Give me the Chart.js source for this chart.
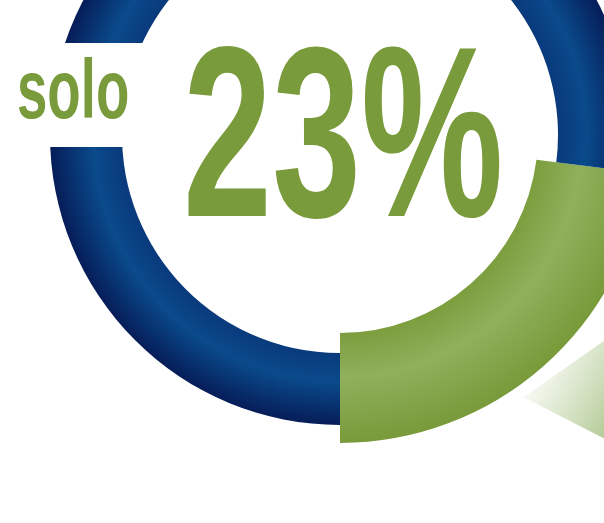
<!DOCTYPE html>
<html>
<head>
<meta charset="utf-8">
<script src="https://cdn.jsdelivr.net/npm/chart.js@4/dist/chart.umd.min.js"></script>
<style>
    html, body { margin: 0; padding: 0; background: #fff; }
    body { width: 604px; height: 523px; overflow: hidden; position: relative; }
    #wrap { position: absolute; left: -60px; top: -265px; width: 800px; height: 800px; }
    .lbl { position: absolute; color: #7a9b3b; font-family: "Liberation Sans", Arial, sans-serif;
           font-weight: bold; line-height: 1; white-space: nowrap; transform-origin: left top; }
    #mask { position: absolute; left: 0; top: 43px; width: 172px; height: 104px; background: #fff; }
</style>
</head>
<body>
<div id="wrap"><canvas id="ring" width="800" height="800"></canvas></div>
<div id="mask"></div>
<div class="lbl" id="solo" style="left:17px; top:47px; font-size:84px; transform:scaleX(0.65);">solo</div>
<div class="lbl" id="pct" style="left:183px; top:10px; font-size:244px; transform:scaleX(0.656);">23%</div>

<script>
// data
const labels = ["solo", "resto"];
const values = [23, 77];

// style
const outerR = 290;
const innerR = 218;
const growOut = 18;   // highlighted slice sticks out
const growIn = 20;

const greenStops = ["#7c9e3e", "#90b05c", "#789a39"];
const blueStops = ["#093a7c", "#0a4a8b", "#061d58"];

function sliceFill(c) {
    const chart = c.chart;
    const area = chart.chartArea;
    const first = c.dataIndex === 0;
    const stops = first ? greenStops : blueStops;
    if (!area) return stops[1];
    const rIn = first ? innerR - growIn : innerR;
    const rOut = first ? outerR + growOut : outerR;
    const cx = (area.left + area.right) / 2;
    const cy = (area.top + area.bottom) / 2;
    const g = chart.ctx.createRadialGradient(cx, cy, rIn, cx, cy, rOut);
    g.addColorStop(0, stops[0]);
    g.addColorStop(0.4, stops[1]);
    g.addColorStop(1, stops[2]);
    return g;
}

const bigSlice = {
    id: "bigSlice",
    afterDatasetUpdate(chart) {
        const arc = chart.getDatasetMeta(0).data[0];
        arc.outerRadius = outerR + growOut;
        arc.innerRadius = innerR - growIn;
    },
    beforeDatasetsDraw(chart) {
        // pale green glow below the green slice
        const arc = chart.getDatasetMeta(0).data[0];
        const ctx = chart.ctx;
        const cx = arc.x, cy = arc.y;
        const p = (r, deg) => [cx + r * Math.cos(deg * Math.PI / 180), cy + r * Math.sin(deg * Math.PI / 180)];
        ctx.save();
        ctx.beginPath();
        let a = p(320, 55); ctx.moveTo(a[0], a[1]);
        a = p(547, 43); ctx.lineTo(a[0], a[1]);
        a = p(560, 15); ctx.lineTo(a[0], a[1]);
        a = p(arc.outerRadius + 45, 30); ctx.lineTo(a[0], a[1]);
        ctx.closePath();
        const g = ctx.createLinearGradient(cx + 180, cy + 240, cx + 290, cy + 300);
        g.addColorStop(0, "rgba(160,190,120,0)");
        g.addColorStop(1, "rgba(140,175,95,0.8)");
        ctx.fillStyle = g;
        ctx.fill();
        ctx.restore();
    }
};

new Chart(document.getElementById("ring"), {
    type: "doughnut",
    data: {
        labels: labels,
        datasets: [{
            data: values,
            backgroundColor: sliceFill,
            borderWidth: 0
        }]
    },
    options: {
        responsive: false,
        animation: false,
        radius: outerR,
        cutout: (innerR / outerR * 100) + "%",
        rotation: 180 - values[0] * 3.6,
        layout: { padding: 0 },
        plugins: { legend: { display: false }, tooltip: { enabled: false } }
    },
    plugins: [bigSlice]
});
</script>
</body>
</html>
